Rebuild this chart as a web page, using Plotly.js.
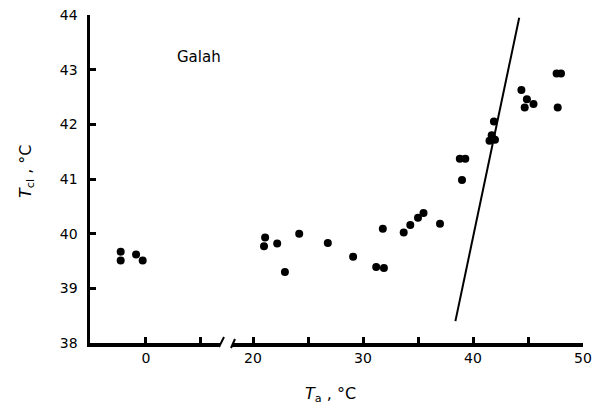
<!DOCTYPE html>
<html>
<head>
<meta charset="utf-8">
<script src="https://cdn.plot.ly/plotly-3.0.1.min.js"></script>
<style>html,body{margin:0;padding:0;background:#fff;}#chart{width:593px;height:414px;}</style>
</head>
<body>
<div id="chart"></div>
<script>
// Cold-temperature points (left axis segment)
var coldTa = [-2.3, -2.3, -0.9, -0.3];
var coldTcl = [39.67, 39.51, 39.62, 39.51];
// Warm-temperature points (right axis segment)
var warmTa = [21.1, 21.0, 22.2, 22.9, 24.2, 26.8, 29.1, 31.2, 31.9, 31.8, 33.7, 34.3, 35.0, 35.5, 37.0,
              38.8, 39.3, 39.0, 41.9, 41.7, 41.5, 42.0, 44.4, 44.9, 44.7, 45.5, 47.6, 48.0, 47.7];
var warmTcl = [39.93, 39.77, 39.82, 39.30, 40.00, 39.83, 39.58, 39.39, 39.37, 40.09, 40.02, 40.16, 40.29, 40.38, 40.18,
               41.37, 41.37, 40.98, 42.05, 41.80, 41.70, 41.72, 42.63, 42.46, 42.31, 42.37, 42.93, 42.93, 42.31];
// Isothermal line Tcl = Ta
var lineTa = [38.4, 44.2];
var lineTcl = [38.4, 43.95];
// Ticks
var leftTicks = [0];
var leftTickText = ['0'];
var rightTicks = [20, 30, 40, 50];
var rightTickText = ['20', '30', '40', '50'];
var xMinorStep = 5;
var yTicks = [38, 39, 40, 41, 42, 43, 44];
var yTickText = ['38', '39', '40', '41', '42', '43', '44'];

var FONT = 'DejaVu Sans, Liberation Sans, sans-serif';
var mk = {color: '#000', size: 8};

var traces = [
  {x: coldTa, y: coldTcl, mode: 'markers', marker: mk, xaxis: 'x', yaxis: 'y', hoverinfo: 'x+y'},
  {x: warmTa, y: warmTcl, mode: 'markers', marker: mk, xaxis: 'x2', yaxis: 'y', hoverinfo: 'x+y'},
  {x: lineTa, y: lineTcl, mode: 'lines', line: {color: '#000', width: 2}, xaxis: 'x2', yaxis: 'y', hoverinfo: 'skip'}
];

var W = 593, H = 414, L = 90, R = 10, T = 15, B = 71;
var pw = W - L - R, ph = H - T - B;
function px(x) { return (x - L) / pw; }
function py(y) { return (H - B - y) / ph; }

var minorX = {ticks: 'inside', ticklen: 6, tickwidth: 3, tickcolor: '#000', dtick: xMinorStep, tick0: 0, showgrid: false};

function axis(extra) {
  return Object.assign({
    showline: true, linecolor: '#000', linewidth: 3.5, mirror: false,
    ticks: 'inside', ticklen: 6, tickwidth: 3, tickcolor: '#000',
    showgrid: false, zeroline: false,
    tickfont: {family: FONT, size: 14, color: '#000'},
    fixedrange: true
  }, extra);
}

var layout = {
  width: W, height: H,
  margin: {l: L, r: R, t: T, b: B, pad: 0},
  paper_bgcolor: '#fff', plot_bgcolor: '#fff',
  showlegend: false,
  xaxis: axis({
    domain: [0, px(220)], range: [-5.09, 6.73],
    tickmode: 'array', tickvals: leftTicks, ticktext: leftTickText,
    minor: minorX, anchor: 'y'
  }),
  xaxis2: axis({
    domain: [px(232), 1], range: [18.09, 50],
    tickmode: 'array', tickvals: rightTicks, ticktext: rightTickText,
    minor: minorX, anchor: 'y'
  }),
  yaxis: axis({
    range: [38, 44], tickmode: 'array', tickvals: yTicks, ticktext: yTickText,
    anchor: 'x', ticklabelstandoff: 6
  }),
  shapes: [
    {type: 'line', xref: 'paper', yref: 'paper', x0: px(219), y0: py(347), x1: px(224), y1: py(337), line: {color: '#000', width: 2}},
    {type: 'line', xref: 'paper', yref: 'paper', x0: px(231), y0: py(348), x1: px(235), y1: py(339), line: {color: '#000', width: 2}}
  ],
  annotations: [
    {text: 'Galah', xref: 'paper', yref: 'paper', x: px(199), y: py(57), xanchor: 'center', yanchor: 'middle', showarrow: false,
     font: {family: FONT, size: 15, color: '#000'}},
    {text: '<i>T</i><sub>a</sub> , °C', xref: 'paper', yref: 'paper', x: px(330), y: py(394), xanchor: 'center', yanchor: 'middle', showarrow: false,
     font: {family: FONT, size: 16, color: '#000'}},
    {text: '<i>T</i><sub>cl</sub> , °C', xref: 'paper', yref: 'paper', x: px(26), y: py(172), xanchor: 'center', yanchor: 'middle', showarrow: false,
     textangle: -90, font: {family: FONT, size: 16, color: '#000'}}
  ]
};

Plotly.newPlot('chart', traces, layout, {displayModeBar: false, staticPlot: true});
</script>
</body>
</html>
